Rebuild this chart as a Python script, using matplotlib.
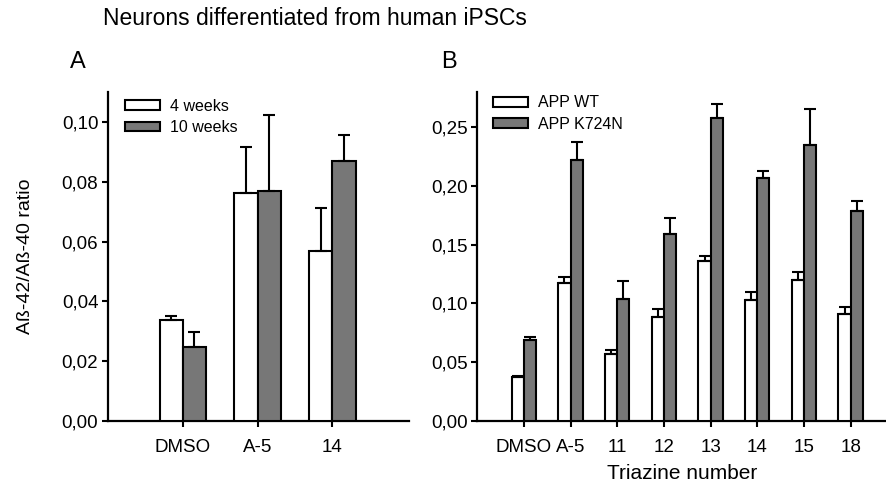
import matplotlib
matplotlib.use("Agg")
import matplotlib.pyplot as plt
import numpy as np
from matplotlib.patches import Patch
from matplotlib.ticker import FuncFormatter

plt.rcParams["font.family"] = ["Liberation Sans", "DejaVu Sans"]

# Panel A: weeks of differentiation
a_groups = ["DMSO", "A-5", "14"]
a_4wk = [0.0337, 0.0763, 0.0569]
a_4wk_err = [0.0013, 0.0152, 0.0143]
a_10wk = [0.0247, 0.0769, 0.0869]
a_10wk_err = [0.0050, 0.0254, 0.0086]

# Panel B: triazines, APP WT vs APP K724N
b_groups = ["DMSO", "A-5", "11", "12", "13", "14", "15", "18"]
b_wt = [0.0375, 0.1170, 0.0566, 0.0883, 0.1363, 0.1030, 0.1200, 0.0910]
b_wt_err = [0.0008, 0.0058, 0.0034, 0.0070, 0.0037, 0.0070, 0.0064, 0.0063]
b_mut = [0.0685, 0.2220, 0.1035, 0.1590, 0.2580, 0.2070, 0.2347, 0.1790]
b_mut_err = [0.0028, 0.0153, 0.0159, 0.0135, 0.0120, 0.0054, 0.0308, 0.0080]

GRAY = "#777777"
TICK_FS = 13.5
err_kw = dict(ecolor="black", elinewidth=1.5, capsize=4.5, capthick=1.5)


def style_axis(ax):
    for side in ("top", "right"):
        ax.spines[side].set_visible(False)
    for side in ("left", "bottom"):
        ax.spines[side].set_linewidth(1.6)
    ax.tick_params(direction="out", length=4, width=1.5, labelsize=TICK_FS)
    ax.tick_params(axis="x", pad=9)
    ax.tick_params(axis="y", pad=3)
    ax.yaxis.set_major_formatter(FuncFormatter(lambda v, _: f"{v:.2f}".replace(".", ",")))


def grouped(ax, groups, left, left_err, right, right_err, width, labels, anchor):
    x = np.arange(1, len(groups) + 1)
    ax.bar(x - width / 2, left, width, yerr=[np.zeros(len(left)), left_err],
           color="white", edgecolor="black", linewidth=1.5, error_kw=err_kw, zorder=3)
    ax.bar(x + width / 2, right, width, yerr=[np.zeros(len(right)), right_err],
           color=GRAY, edgecolor="black", linewidth=1.5, error_kw=err_kw, zorder=3)
    ax.set_xticks(x, labels=groups)
    handles = [Patch(facecolor="white", edgecolor="black", linewidth=1.5, label=labels[0]),
               Patch(facecolor=GRAY, edgecolor="black", linewidth=1.5, label=labels[1])]
    ax.legend(handles=handles, loc="upper left", bbox_to_anchor=anchor, frameon=False,
              fontsize=11.5, handlelength=2.2, handleheight=0.55, handletextpad=0.6,
              labelspacing=0.4, borderaxespad=0, borderpad=0)


fig = plt.figure(figsize=(8.87, 4.98), dpi=100)
ax_a = fig.add_axes([0.1218, 0.155, 0.339, 0.660])
ax_b = fig.add_axes([0.538, 0.155, 0.462, 0.660])

grouped(ax_a, a_groups, a_4wk, a_4wk_err, a_10wk, a_10wk_err, 0.31,
        ["4 weeks", "10 weeks"], (0.056, 0.98))
ax_a.set_xlim(0, 4.02)
ax_a.set_ylim(0, 0.11)
ax_a.set_yticks(np.arange(0, 0.101, 0.02))
style_axis(ax_a)
ax_a.set_ylabel("A\u00df-42/A\u00df-40 ratio", fontsize=14, labelpad=20)

grouped(ax_b, b_groups, b_wt, b_wt_err, b_mut, b_mut_err, 0.26,
        ["APP WT", "APP K724N"], (0.039, 0.99))
ax_b.set_xlim(0, 8.78)
ax_b.set_ylim(0, 0.28)
ax_b.set_yticks(np.arange(0, 0.251, 0.05))
style_axis(ax_b)
ax_b.set_xlabel("Triazine number", fontsize=15, labelpad=6)

fig.text(103 / 887, 1 - 25 / 498, "Neurons differentiated from human iPSCs",
         fontsize=16.5, va="baseline", ha="left")
fig.text(70 / 887, 1 - 68 / 498, "A", fontsize=17, va="baseline", ha="left")
fig.text(441 / 887, 1 - 68 / 498, "B", fontsize=17, va="baseline", ha="left")

fig.savefig("out.png", dpi=100)
